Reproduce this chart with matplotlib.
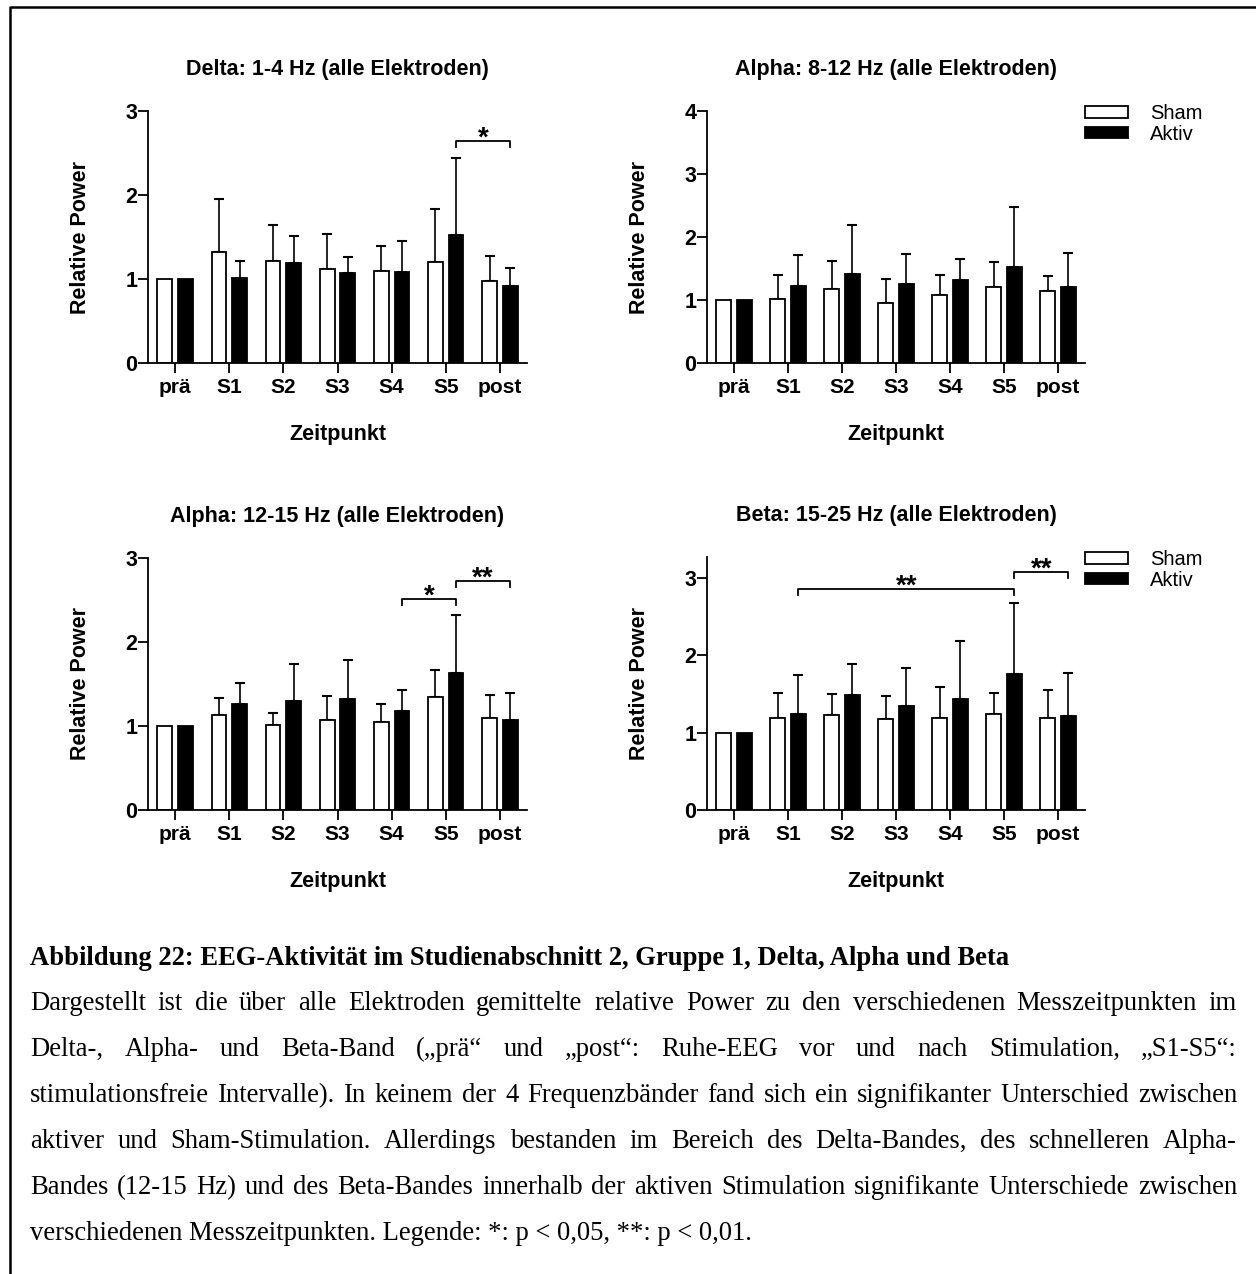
import matplotlib
matplotlib.use('Agg')
import matplotlib.pyplot as plt
from matplotlib.lines import Line2D
import numpy as np

W, H = 1256, 1274
plt.rcParams['font.family'] = ['Liberation Sans', 'DejaVu Sans']

zeitpunkte = ['prä', 'S1', 'S2', 'S3', 'S4', 'S5', 'post']
gruppen = ['Sham', 'Aktiv']

# Mittelwerte und SD (nur nach oben gezeichnet)
delta_sham = [1.00, 1.32, 1.21, 1.12, 1.10, 1.20, 0.98]
delta_sham_sd = [0.00, 0.63, 0.43, 0.42, 0.29, 0.63, 0.29]
delta_aktiv = [1.00, 1.01, 1.19, 1.07, 1.08, 1.52, 0.92]
delta_aktiv_sd = [0.00, 0.20, 0.32, 0.19, 0.37, 0.92, 0.21]

alpha1_sham = [1.00, 1.01, 1.17, 0.95, 1.08, 1.20, 1.14]
alpha1_sham_sd = [0.00, 0.39, 0.45, 0.39, 0.32, 0.40, 0.24]
alpha1_aktiv = [1.00, 1.22, 1.42, 1.25, 1.32, 1.52, 1.21]
alpha1_aktiv_sd = [0.00, 0.49, 0.77, 0.48, 0.33, 0.95, 0.54]

alpha2_sham = [1.00, 1.13, 1.01, 1.07, 1.05, 1.34, 1.09]
alpha2_sham_sd = [0.00, 0.20, 0.15, 0.29, 0.21, 0.33, 0.28]
alpha2_aktiv = [1.00, 1.26, 1.30, 1.32, 1.18, 1.63, 1.07]
alpha2_aktiv_sd = [0.00, 0.25, 0.44, 0.46, 0.25, 0.69, 0.32]

beta_sham = [1.00, 1.19, 1.23, 1.17, 1.19, 1.24, 1.19]
beta_sham_sd = [0.00, 0.32, 0.27, 0.30, 0.40, 0.27, 0.36]
beta_aktiv = [1.00, 1.24, 1.49, 1.35, 1.44, 1.76, 1.22]
beta_aktiv_sd = [0.00, 0.50, 0.40, 0.48, 0.75, 0.91, 0.55]

# Signifikanzklammern: (von, bis, Höhe, Sterne)
delta_sig = [(5, 6, 2.64, '*')]
alpha1_sig = []
alpha2_sig = [(4, 5, 2.51, '*'), (5, 6, 2.73, '**')]
beta_sig = [(1, 5, 2.86, '**'), (5, 6, 3.08, '**')]

titel = ['Delta: 1-4 Hz (alle Elektroden)', 'Alpha: 8-12 Hz (alle Elektroden)',
         'Alpha: 12-15 Hz (alle Elektroden)', 'Beta: 15-25 Hz (alle Elektroden)']

caption_title = 'Abbildung 22: EEG-Aktivität im Studienabschnitt 2, Gruppe 1, Delta, Alpha und Beta'
caption_lines = [
    'Dargestellt ist die über alle Elektroden gemittelte relative Power zu den verschiedenen Messzeitpunkten im',
    'Delta-, Alpha- und Beta-Band („prä“ und „post“: Ruhe-EEG vor und nach Stimulation, „S1-S5“:',
    'stimulationsfreie Intervalle). In keinem der 4 Frequenzbänder fand sich ein signifikanter Unterschied zwischen',
    'aktiver und Sham-Stimulation. Allerdings bestanden im Bereich des Delta-Bandes, des schnelleren Alpha-',
    'Bandes (12-15 Hz) und des Beta-Bandes innerhalb der aktiven Stimulation signifikante Unterschiede zwischen',
    'verschiedenen Messzeitpunkten. Legende: *: p < 0,05, **: p < 0,01.',
]

fig = plt.figure(figsize=(W / 100, H / 100), dpi=100)


def px_axes(left, top, right, bottom):
    return fig.add_axes([left / W, 1 - bottom / H, (right - left) / W, (bottom - top) / H])


def panel(ax, title, sham, sham_sd, aktiv, aktiv_sd, ymax, sig, legend):
    fs = 15.5
    x = np.arange(len(zeitpunkte))
    w, off = 0.27, 0.19
    ax.bar(x - off, sham, w, color='white', edgecolor='black', linewidth=1.3, label=gruppen[0], zorder=2)
    ax.bar(x + off, aktiv, w, color='black', edgecolor='black', linewidth=1.3, label=gruppen[1], zorder=2)
    for xs, m, sd in [(x - off, sham, sham_sd), (x + off, aktiv, aktiv_sd)]:
        m, sd = np.array(m), np.array(sd)
        k = sd > 0
        ax.errorbar(xs[k], m[k], yerr=[np.zeros(k.sum()), sd[k]], fmt='none', ecolor='black',
                    elinewidth=1.2, capsize=3.5, capthick=1.5, zorder=1)
    ax.set_xlim(-0.5, 6.5)
    ax.set_ylim(0, ymax)
    ax.set_yticks(range(int(ymax) + 1))
    ax.set_xticks(x)
    ax.set_xticklabels(zeitpunkte, fontsize=fs - 0.5, fontweight='bold')
    ax.set_yticklabels([str(v) for v in range(int(ymax) + 1)], fontsize=fs, fontweight='bold')
    ax.tick_params(axis='both', direction='out', length=7, width=1.3)
    ax.tick_params(axis='x', pad=4)
    ax.tick_params(axis='y', pad=0.5)
    for s in ['top', 'right']:
        ax.spines[s].set_visible(False)
    for s in ['left', 'bottom']:
        ax.spines[s].set_linewidth(1.3)
    ax.set_title(title, fontsize=fs, fontweight='bold', pad=26)
    ax.set_ylabel('Relative Power', fontsize=fs, fontweight='bold')
    ax.set_xlabel('Zeitpunkt', fontsize=fs, fontweight='bold')
    bb = ax.get_position()
    ax.yaxis.set_label_coords(-57 / (bb.width * W), 0.5)
    ax.xaxis.set_label_coords(0.5, -61 / (bb.height * H))
    dy = ymax * 6 / 252
    for a, b, y, stars in sig:
        xa, xb = a + off, b + off
        ax.plot([xa, xa, xb, xb], [y - dy, y, y, y - dy], color='black', lw=1.3, clip_on=False)
        ax.annotate(stars, ((xa + xb) / 2, y), xytext=(0, -3.5), textcoords='offset points',
                    ha='center', va='baseline', fontsize=20, fontweight='bold', annotation_clip=False)
    if legend:
        ax.legend(loc='upper left', bbox_to_anchor=(1.0, 1.0 + 7 / 252), frameon=False,
                  prop={'family': 'Liberation Sans', 'size': 14.5}, borderaxespad=0, borderpad=0,
                  handlelength=2.15, handleheight=0.5, handletextpad=1.1, labelspacing=0.08)


ax1 = px_axes(148, 111, 527, 363)
ax2 = px_axes(707, 111, 1085, 363)
ax3 = px_axes(148, 558, 527, 810)
ax4 = px_axes(707, 557, 1085, 810)

panel(ax1, titel[0], delta_sham, delta_sham_sd, delta_aktiv, delta_aktiv_sd, 3, delta_sig, False)
panel(ax2, titel[1], alpha1_sham, alpha1_sham_sd, alpha1_aktiv, alpha1_aktiv_sd, 4, alpha1_sig, True)
panel(ax3, titel[2], alpha2_sham, alpha2_sham_sd, alpha2_aktiv, alpha2_aktiv_sd, 3, alpha2_sig, False)
panel(ax4, titel[3], beta_sham, beta_sham_sd, beta_aktiv, beta_aktiv_sd, 3.27, beta_sig, True)

# Rahmen
fig.add_artist(Line2D([10 / W, 10 / W, 1], [0, 1 - 7 / H, 1 - 7 / H], transform=fig.transFigure,
                      color='black', lw=1.8))

# Bildunterschrift (Blocksatz)
cap_fs = 19.2
x_left, x_right = 30, 1237
fig.text(x_left / W, 1 - 965 / H, caption_title, fontfamily='Liberation Serif', fontweight='bold',
         fontsize=cap_fs, va='baseline')
renderer = fig.canvas.get_renderer()
for i, line in enumerate(caption_lines):
    y = 1 - (1010 + 46 * i) / H
    if i == len(caption_lines) - 1:
        fig.text(x_left / W, y, line, fontfamily='Liberation Serif', fontsize=cap_fs, va='baseline')
        continue
    words = line.split(' ')
    texts = [fig.text(0, y, wd, fontfamily='Liberation Serif', fontsize=cap_fs, va='baseline') for wd in words]
    widths = [t.get_window_extent(renderer).width for t in texts]
    gap = (x_right - x_left - sum(widths)) / (len(words) - 1)
    xpos = x_left
    for t, wd in zip(texts, widths):
        t.set_x(xpos / W)
        xpos += wd + gap

fig.savefig('out.png', dpi=100)
